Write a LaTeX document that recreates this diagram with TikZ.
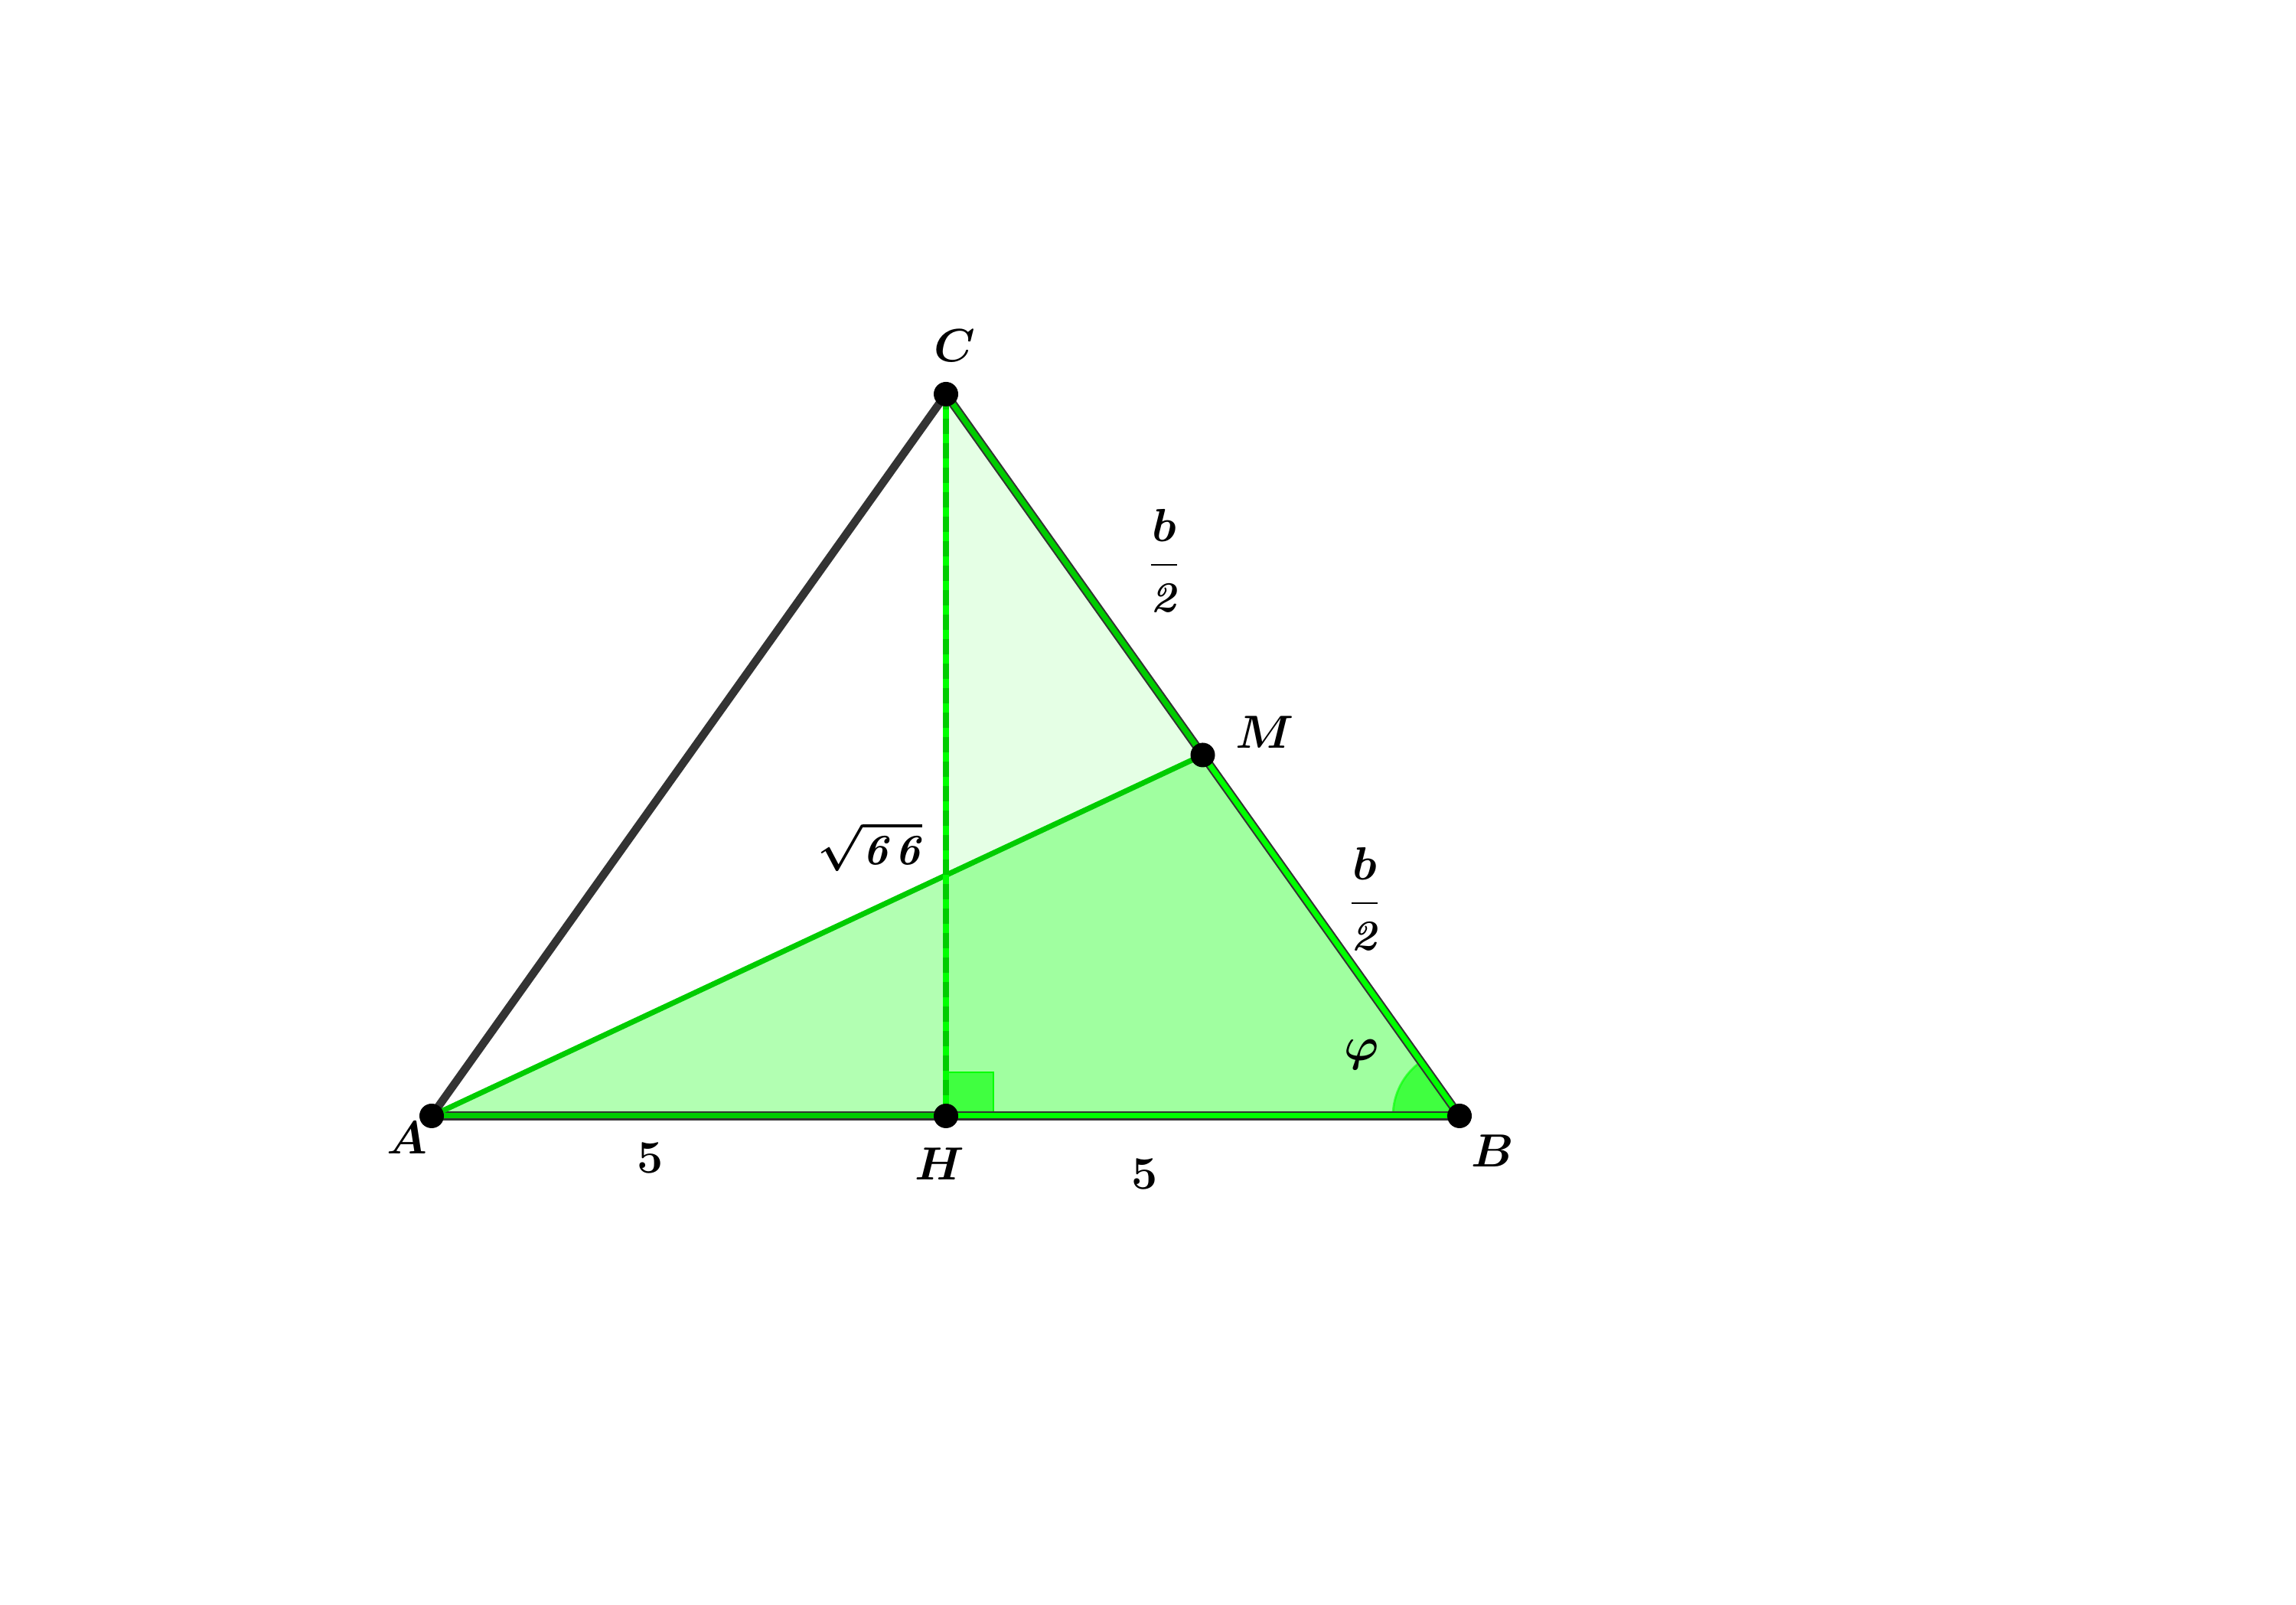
\documentclass[tikz,border=0pt]{standalone}
\usepackage{amsmath}
\usepackage{tikz}
\usetikzlibrary{positioning,calc}
\definecolor{ggbright}{RGB}{0,255,0}
\definecolor{ggdark}{RGB}{0,204,0}
\definecolor{ggline}{RGB}{51,51,51}
\tikzset{
  pt/.style={circle, fill=black, inner sep=0pt, minimum size=3.2mm},
  lbl/.style={font=\fontsize{16}{19}\selectfont\boldmath},
  side/.style={line width=3pt, draw=ggline, line cap=round},
  greenside/.style={line width=3.2pt, draw=ggline},
  greeninner/.style={line width=2pt},
}

\begin{document}
\begin{tikzpicture}
	\useasboundingbox (0,0) rectangle (30,20.97);
	% points
	\coordinate (A) at (5.64,6.39);
	\coordinate (H) at (12.36,6.39);
	\coordinate (B) at (19.07,6.39);
	\coordinate (C) at (12.36,15.82);
	\coordinate (M) at ($(C)!0.5!(B)$);
	%
	\fill[ggbright, opacity=0.1] (H) -- (B) -- (C) -- cycle;
	\fill[ggbright, opacity=0.3] (A) -- (B) -- (M) -- cycle;
	% right angle and angle phi
	\filldraw[fill=ggbright, fill opacity=0.6, draw=ggbright, line width=0.8pt] (H) rectangle ++(0.62,0.57);
	\filldraw[fill=ggbright, fill opacity=0.6, draw=ggbright, draw opacity=0.6, line width=0.8pt] (B) -- ++(180:0.87) arc (180:125.4:0.87) -- cycle;
	%
	\draw[side] (A) -- (C);
	\draw[greenside] (A) -- (B);
	\draw[greeninner, ggdark] (A) -- (H);
	\draw[greeninner, ggbright] (H) -- (B);
	\draw[greenside] (C) -- (B);
	\draw[greeninner, ggdark] (C) -- (M);
	\draw[greeninner, ggbright] (M) -- (B);
	\draw[line width=2pt, ggdark] (A) -- (M);
	\draw[line width=2.2pt, ggbright] (C) -- (H);
	\draw[line width=2.2pt, ggdark, dash pattern=on 0.2cm off 0.12cm] (C) -- (H);
	%
	\node[pt] (pA) at (A) {};
	\node[pt] (pH) at (H) {};
	\node[pt] (pB) at (B) {};
	\node[pt] (pC) at (C) {};
	\node[pt] (pM) at (M) {};
	%
	\node[lbl] (lC) at (12.47,16.45) {$C$};
	\node[lbl] (lM) at (16.53,11.40) {$M$};
	\node[lbl] (lA) at (5.32,6.10) {$A$};
	\node[lbl] (lB) at (19.50,5.93) {$B$};
	\node[lbl] (lH) at (12.28,5.76) {$H$};
	\node[lbl] (l5a) at (8.50,5.84) {$\mathbf{5}$};
	\node[lbl] (l5b) at (14.96,5.63) {$\mathbf{5}$};
	\node[lbl] (lh) at (11.37,9.91) {$\sqrt{\textbf{\textit{6\,6}}}$};
	\node[lbl] (lb1) at (15.21,13.64) {$\dfrac{b}{\textbf{\textit{2}}}$};
	\node[lbl] (lb2) at (17.83,9.22) {$\dfrac{b}{\textbf{\textit{2}}}$};
	\node[lbl] (lphi) at (17.79,7.19) {$\varphi$};
\end{tikzpicture}
\end{document}
